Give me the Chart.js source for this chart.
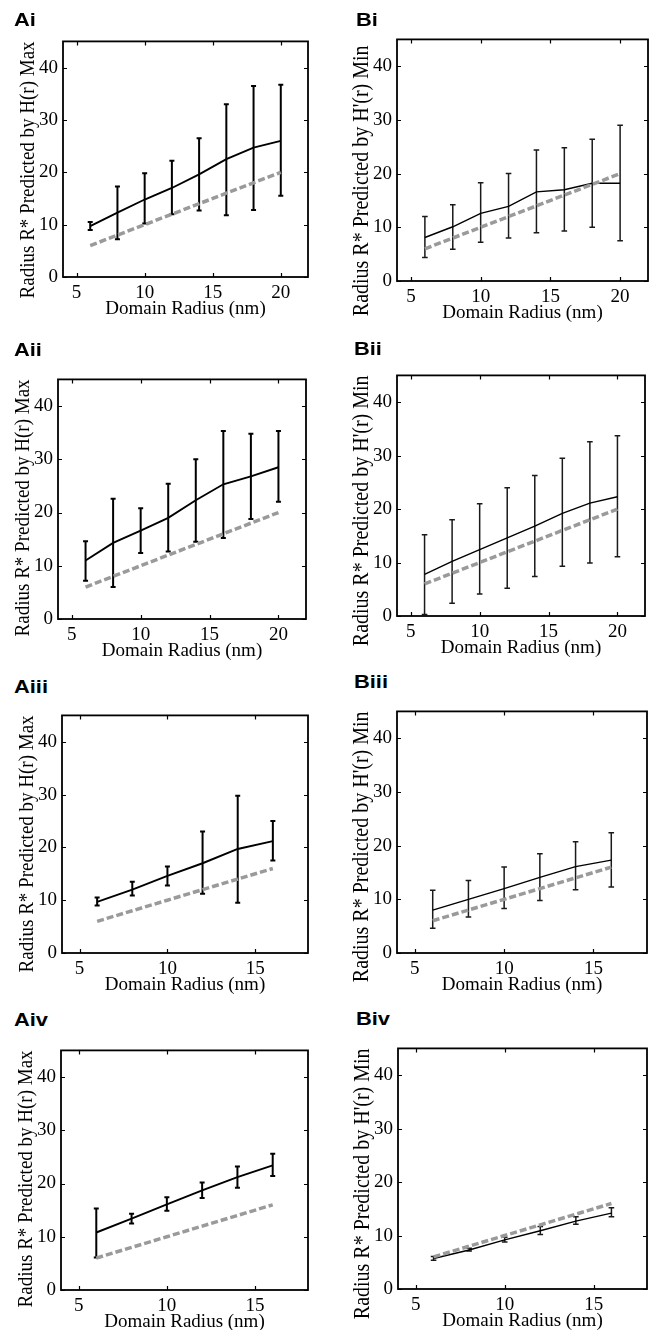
<!DOCTYPE html>
<html>
<head>
<meta charset="utf-8">
<script src="https://cdn.jsdelivr.net/npm/chart.js@4.4.1/dist/chart.umd.min.js"></script>
<style>
  body { margin: 0; background: #fff; }
  #page { position: relative; width: 650px; height: 1330px; overflow: hidden; }
  canvas { position: absolute; }
  .lbl { position: absolute; font: bold 19px "Liberation Sans", Arial, sans-serif; line-height: 1; color: #000;
         transform: scaleX(1.15); transform-origin: left top; }
</style>
</head>
<body>
<div id="page"></div>
<script>
// domain radius (nm)
const radii20 = [6, 8, 10, 12, 14, 16, 18, 20];
const radii16 = [6, 8, 10, 12, 14, 16];
// dashed reference line, R* equal to the domain radius
const ideal20 = [6, 8, 10, 12, 14, 16, 18, 20];
const ideal16 = [6, 8, 10, 12, 14, 16];

const yTicks = [0, 10, 20, 30, 40];
const xTicks20 = [5, 10, 15, 20];
const xTicks16 = [5, 10, 15];

// Ai
const aiMean = [9.7, 12.3, 14.8, 17.0, 19.6, 22.5, 24.7, 26.0];
const aiLo = [9.0, 7.2, 10.2, 12.0, 12.7, 11.8, 12.8, 15.5];
const aiHi = [10.5, 17.3, 19.8, 22.2, 26.5, 33.0, 36.5, 36.7];
// Bi
const biMean = [8.1, 10.1, 12.6, 13.9, 16.6, 17.0, 18.2, 18.2];
const biLo = [4.4, 5.9, 7.2, 8.0, 9.0, 9.3, 10.0, 7.5];
const biHi = [12.0, 14.2, 18.3, 20.0, 24.4, 24.8, 26.4, 29.0];
// Aii
const aiiMean = [11.0, 14.3, 16.6, 19.0, 22.3, 25.3, 26.8, 28.5];
const aiiLo = [7.2, 6.0, 12.4, 12.7, 14.5, 15.2, 18.8, 22.0];
const aiiHi = [14.6, 22.6, 20.8, 25.4, 30.0, 35.3, 34.8, 35.3];
// Bii
const biiMean = [7.8, 10.2, 12.4, 14.6, 16.8, 19.2, 21.1, 22.3];
const biiLo = [0.3, 2.4, 4.1, 5.2, 7.4, 9.3, 9.9, 11.1];
const biiHi = [15.2, 18.0, 21.0, 24.0, 26.3, 29.5, 32.6, 33.7];
// Aiii
const aiiiMean = [9.7, 12.0, 14.6, 17.0, 19.7, 21.2];
const aiiiLo = [9.0, 10.9, 12.8, 11.2, 9.5, 17.5];
const aiiiHi = [10.5, 13.5, 16.4, 23.0, 29.8, 25.0];
// Biii
const biiiMean = [8.0, 10.0, 12.0, 14.1, 16.1, 17.3];
const biiiLo = [4.6, 6.7, 8.3, 9.8, 11.8, 12.3];
const biiiHi = [11.7, 13.5, 16.0, 18.5, 20.7, 22.4];
// Aiv
const aivMean = [10.8, 13.4, 16.1, 18.7, 21.2, 23.4];
const aivLo = [6.1, 12.5, 14.9, 17.3, 19.2, 21.4];
const aivHi = [15.3, 14.3, 17.4, 20.2, 23.2, 25.6];
// Biv
const bivMean = [5.7, 7.3, 9.2, 10.9, 12.7, 14.2];
const bivLo = [5.4, 7.1, 8.8, 10.2, 12.1, 13.5];
const bivHi = [6.1, 7.6, 9.7, 11.7, 13.5, 15.2];

const titleA = 'Radius R* Predicted by H(r) Max';
const titleB = "Radius R* Predicted by H'(r) Min";

// box = plot area [left, right, top, bottom] on the page, at = label position
const panels = [
  { tag: 'Ai',   x: radii20, mean: aiMean,   lo: aiLo,   hi: aiHi,   ideal: ideal20, xt: xTicks20, xmax: 22, B: false, box: [63, 308, 33, 277],     at: [14, 10] },
  { tag: 'Bi',   x: radii20, mean: biMean,   lo: biLo,   hi: biHi,   ideal: ideal20, xt: xTicks20, xmax: 22, B: true,  box: [397, 648, 31, 281],    at: [356, 10] },
  { tag: 'Aii',  x: radii20, mean: aiiMean,  lo: aiiLo,  hi: aiiHi,  ideal: ideal20, xt: xTicks20, xmax: 22, B: false, box: [58, 306, 371, 619],    at: [14, 340] },
  { tag: 'Bii',  x: radii20, mean: biiMean,  lo: biiLo,  hi: biiHi,  ideal: ideal20, xt: xTicks20, xmax: 22, B: true,  box: [397, 645, 367, 616],   at: [354, 339] },
  { tag: 'Aiii', x: radii16, mean: aiiiMean, lo: aiiiLo, hi: aiiiHi, ideal: ideal16, xt: xTicks16, xmax: 18, B: false, box: [62, 308, 707, 953],    at: [14, 677] },
  { tag: 'Biii', x: radii16, mean: biiiMean, lo: biiiLo, hi: biiiHi, ideal: ideal16, xt: xTicks16, xmax: 18, B: true,  box: [397, 647, 703, 953],   at: [354, 672] },
  { tag: 'Aiv',  x: radii16, mean: aivMean,  lo: aivLo,  hi: aivHi,  ideal: ideal16, xt: xTicks16, xmax: 18, B: false, box: [61, 308, 1042, 1290],  at: [14, 1010] },
  { tag: 'Biv',  x: radii16, mean: bivMean,  lo: bivLo,  hi: bivHi,  ideal: ideal16, xt: xTicks16, xmax: 18, B: true,  box: [398, 647, 1040, 1289], at: [356, 1009] }
];

const YW = 50, XH = 44, PAD_T = 8, PAD_R = 6;
const serif = '"Liberation Serif", "Times New Roman", serif';

// error bars, inner tick marks, frame and the rotated y title
const framePlugin = {
  id: 'frame',
  beforeDatasetsDraw(chart, args, o) {
    const xs = chart.scales.x, ys = chart.scales.y, ctx = chart.ctx;
    ctx.save();
    ctx.strokeStyle = o.barColor;
    ctx.lineWidth = o.barWidth;
    o.x.forEach((v, i) => {
      const px = xs.getPixelForValue(v);
      const y1 = ys.getPixelForValue(o.lo[i]), y2 = ys.getPixelForValue(o.hi[i]);
      ctx.beginPath();
      ctx.moveTo(px, y1); ctx.lineTo(px, y2);
      ctx.moveTo(px - o.cap, y1); ctx.lineTo(px + o.cap, y1);
      ctx.moveTo(px - o.cap, y2); ctx.lineTo(px + o.cap, y2);
      ctx.stroke();
    });
    ctx.restore();
  },
  afterDraw(chart, args, o) {
    const { left, right, top, bottom } = chart.chartArea;
    const xs = chart.scales.x, ys = chart.scales.y, ctx = chart.ctx;
    ctx.save();
    ctx.strokeStyle = '#000';
    ctx.lineWidth = 1.2;
    ctx.beginPath();
    xs.ticks.forEach(t => {
      const px = Math.round(xs.getPixelForValue(t.value)) + 0.5;
      ctx.moveTo(px, bottom); ctx.lineTo(px, bottom - 4);
      ctx.moveTo(px, top); ctx.lineTo(px, top + 4);
    });
    ys.ticks.forEach(t => {
      const py = Math.round(ys.getPixelForValue(t.value)) + 0.5;
      ctx.moveTo(left, py); ctx.lineTo(left + 4, py);
      ctx.moveTo(right, py); ctx.lineTo(right - 4, py);
    });
    ctx.stroke();
    ctx.lineWidth = 1.8;
    ctx.strokeRect(left, top, right - left, bottom - top);
    // y axis title (glyphs a little wider, like the scanned figure)
    ctx.translate(left - 35, top + o.titleShift);
    ctx.rotate(-Math.PI / 2);
    ctx.scale(1, 1.15);
    ctx.font = o.titleSize + 'px ' + serif;
    ctx.fillStyle = '#000';
    ctx.textAlign = 'right';
    ctx.textBaseline = 'middle';
    ctx.fillText(o.title, 0, 0);
    ctx.restore();
  }
};

const page = document.getElementById('page');

panels.forEach(p => {
  const [L, R, T, Bt] = p.box;
  const cv = document.createElement('canvas');
  const w = R - L + YW + PAD_R, h = Bt - T + PAD_T + XH;
  cv.width = w; cv.height = h;
  cv.style.left = (L - YW) + 'px';
  cv.style.top = (T - PAD_T) + 'px';
  page.appendChild(cv);

  const lbl = document.createElement('div');
  lbl.className = 'lbl';
  lbl.textContent = p.tag;
  lbl.style.left = p.at[0] + 'px';
  lbl.style.top = p.at[1] + 'px';
  page.appendChild(lbl);

  const tickFont = { family: serif, size: 19 };
  new Chart(cv, {
    type: 'line',
    data: {
      datasets: [
        {
          data: p.x.map((v, i) => ({ x: v, y: p.ideal[i] })),
          borderColor: '#9a9a9a', borderWidth: 3.5, borderDash: [7, 3],
          pointRadius: 0, fill: false, tension: 0
        },
        {
          data: p.x.map((v, i) => ({ x: v, y: p.mean[i] })),
          borderColor: '#000', borderWidth: p.B ? 1.4 : 1.9,
          pointRadius: 0, fill: false, tension: 0
        }
      ]
    },
    options: {
      responsive: false,
      animation: false,
      events: [],
      layout: { padding: { top: PAD_T, right: PAD_R, left: 0, bottom: 0 } },
      plugins: {
        legend: { display: false },
        tooltip: { enabled: false },
        frame: {
          x: p.x, lo: p.lo, hi: p.hi,
          barColor: p.B ? '#1a1a1a' : '#000',
          barWidth: p.B ? 1.5 : 2,
          cap: p.B ? 2.8 : 2.5,
          title: p.B ? titleB : titleA,
          titleSize: p.B ? 20 : 19,
          titleShift: p.tag === 'Bi' ? 6 : 0
        }
      },
      scales: {
        x: {
          type: 'linear', min: 4, max: p.xmax,
          grid: { display: false, drawTicks: false },
          border: { display: false },
          afterBuildTicks: s => { s.ticks = p.xt.map(v => ({ value: v })); },
          afterFit: s => { s.height = XH; },
          ticks: { font: tickFont, color: '#000', padding: 5, maxRotation: 0, autoSkip: false },
          title: { display: true, text: 'Domain Radius (nm)', font: tickFont, color: '#000', padding: { top: 0, bottom: 1 } }
        },
        y: {
          type: 'linear', min: 0, max: 45,
          grid: { display: false, drawTicks: false },
          border: { display: false },
          afterBuildTicks: s => { s.ticks = yTicks.map(v => ({ value: v })); },
          afterFit: s => { s.width = YW; },
          ticks: { font: tickFont, color: '#000', padding: 5 }
        }
      }
    },
    plugins: [framePlugin]
  });
});
</script>
</body>
</html>
